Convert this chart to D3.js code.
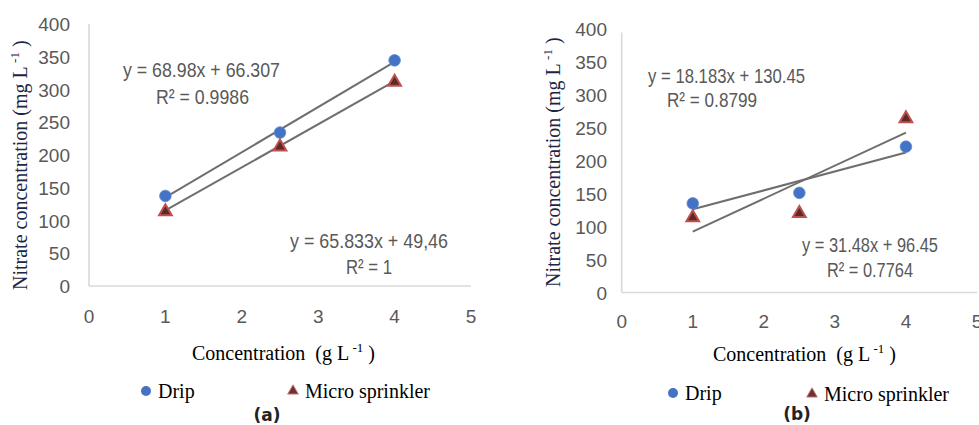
<!DOCTYPE html>
<html>
<head>
<meta charset="utf-8">
<script src="https://cdn.jsdelivr.net/npm/d3@7"></script>
<style>
  html, body { margin: 0; padding: 0; background: #fff; }
  svg { display: block; }
  .tick-label { font-family: "Liberation Sans Narrow", "Arial Narrow", "Liberation Sans", sans-serif; fill: #595959; font-size: 19px; }
  .eq { font-family: "Liberation Sans Narrow", "Arial Narrow", "Liberation Sans", sans-serif; fill: #595959; font-size: 20px; }
  .serif { font-family: "Liberation Serif", "Times New Roman", serif; font-size: 20px; fill: #000; }
  .panel-tag { font-family: "DejaVu Sans", Verdana, sans-serif; font-weight: bold; font-size: 17px; fill: #222; }
</style>
</head>
<body>
<svg id="chart" width="979" height="425"></svg>
<script>
// Applied fertiliser concentration (g L-1)
const concentrations = [1, 2.5, 4];

// Nitrate concentration (mg L-1), panel (a)
const dripA = [137.5, 234.3, 344.5];
const microA = [115.3, 214.0, 312.8];

// Nitrate concentration (mg L-1), panel (b)
const dripB = [135, 151, 221];
const microB = [115, 121.5, 265];

// Axis ticks
const xTicks = [0, 1, 2, 3, 4, 5];
const yTicks = [0, 50, 100, 150, 200, 250, 300, 350, 400];

// Trendline annotations
const labelsA = {
  drip: ["y = 68.98x + 66.307", "R² = 0.9986"],
  micro: ["y = 65.833x + 49,46", "R² = 1"]
};
const labelsB = {
  drip: ["y = 18.183x + 130.45", "R² = 0.8799"],
  micro: ["y = 31.48x + 96.45", "R² = 0.7764"]
};

const seriesNames = ["Drip", "Micro sprinkler"];

const svg = d3.select("#chart");
const BLUE = "#4472C4";
const RED = "#C0504D";

// Ordinary least-squares line through the points
function linearFit(xs, ys) {
  const mx = d3.mean(xs), my = d3.mean(ys);
  let sxy = 0, sxx = 0;
  xs.forEach((x, i) => { sxy += (x - mx) * (ys[i] - my); sxx += (x - mx) * (x - mx); });
  const slope = sxy / sxx;
  return { slope, intercept: my - slope * mx };
}

const triangle = d3.symbol().type(d3.symbolTriangle);

function drawPanel(p) {
  const g = svg.append("g");
  const x = d3.scaleLinear().domain([0, 5]).range(p.xRange);
  const y = d3.scaleLinear().domain([0, 400]).range(p.yRange);

  // axis lines
  g.append("line")
    .attr("x1", x(0)).attr("x2", x(0))
    .attr("y1", y(400) + p.axisTopPad).attr("y2", y(0))
    .attr("stroke", "#d9d9d9").attr("stroke-width", 1.6);
  g.append("line")
    .attr("x1", x(0)).attr("x2", x(5))
    .attr("y1", y(0)).attr("y2", y(0))
    .attr("stroke", "#d9d9d9").attr("stroke-width", 1.6);

  // tick labels
  g.selectAll(".ytl").data(yTicks).enter().append("text")
    .attr("class", "tick-label")
    .attr("x", p.yLabelRight).attr("y", d => y(d) + 7)
    .attr("text-anchor", "end")
    .text(d => d);
  g.selectAll(".xtl").data(xTicks).enter().append("text")
    .attr("class", "tick-label")
    .attr("x", d => x(d)).attr("y", p.xLabelBase)
    .attr("text-anchor", "middle")
    .text(d => d);

  // trendlines from least-squares fits
  [p.drip, p.micro].forEach(vals => {
    const fit = linearFit(concentrations, vals);
    const x0 = d3.min(concentrations), x1 = d3.max(concentrations);
    g.append("line")
      .attr("x1", x(x0)).attr("y1", y(fit.intercept + fit.slope * x0))
      .attr("x2", x(x1)).attr("y2", y(fit.intercept + fit.slope * x1))
      .attr("stroke", "#6e6e6e").attr("stroke-width", 2);
  });

  // markers
  g.selectAll(".drip").data(concentrations).enter().append("circle")
    .attr("cx", d => x(d)).attr("cy", (d, i) => y(p.drip[i]))
    .attr("r", 5.8).attr("fill", BLUE).attr("stroke", "#5b8bd6").attr("stroke-width", 0.8);
  g.selectAll(".micro").data(concentrations).enter().append("path")
    .attr("d", triangle.size(70))
    .attr("transform", (d, i) => `translate(${x(d)},${y(p.micro[i]) + 1})`)
    .attr("fill", "#5a2b2b").attr("stroke", RED).attr("stroke-width", 2);

  // equation labels
  p.eqs.forEach(e => {
    g.append("text").attr("class", "eq")
      .attr("x", e.x).attr("y", e.y).attr("text-anchor", "middle")
      .attr("textLength", e.w).attr("lengthAdjust", "spacingAndGlyphs")
      .text(e.t);
  });

  // y-axis title
  const yt = g.append("text").attr("class", "serif")
    .attr("transform", `translate(${p.yTitle[0]},${p.yTitle[1]}) rotate(-90)`)
    .style("fill", "#1b2545");
  yt.append("tspan").text("Nitrate concentration (mg L");
  yt.append("tspan").attr("dy", -8).attr("font-size", 13).text(" -1");
  yt.append("tspan").attr("dy", 8).text(" )");

  // x-axis title
  const xt = g.append("text").attr("class", "serif")
    .attr("x", p.xTitle[0]).attr("y", p.xTitle[1]);
  xt.append("tspan").text("Concentration\u00a0\u00a0(g L");
  xt.append("tspan").attr("dy", -8).attr("font-size", 13).text(" -1");
  xt.append("tspan").attr("dy", 8).text(" )");

  // legend
  g.append("circle").attr("cx", p.legend.c[0]).attr("cy", p.legend.c[1])
    .attr("r", 5).attr("fill", BLUE);
  g.append("text").attr("class", "serif")
    .attr("x", p.legend.c[0] + 12).attr("y", p.legend.c[1] + 7).text(seriesNames[0]);
  g.append("path").attr("d", triangle.size(50))
    .attr("transform", `translate(${p.legend.t[0]},${p.legend.t[1]})`)
    .attr("fill", "#6b3333").attr("stroke", "#d08080").attr("stroke-width", 1);
  g.append("text").attr("class", "serif")
    .attr("x", p.legend.t[0] + 12).attr("y", p.legend.t[1] + 7).text(seriesNames[1]);

  // panel tag
  g.append("text").attr("class", "panel-tag")
    .attr("x", p.tag[0]).attr("y", p.tag[1]).attr("text-anchor", "middle").text(p.tag[2]);
}

drawPanel({
  xRange: [89, 471], yRange: [286, 24], axisTopPad: 0,
  yLabelRight: 70, xLabelBase: 323,
  drip: dripA, micro: microA,
  eqs: [
    { t: labelsA.drip[0], x: 201.5, y: 77, w: 157 },
    { t: labelsA.drip[1], x: 202.5, y: 104, w: 93 },
    { t: labelsA.micro[0], x: 369, y: 248, w: 158 },
    { t: labelsA.micro[1], x: 369, y: 274, w: 46 }
  ],
  yTitle: [27, 290], xTitle: [192, 360],
  legend: { c: [146, 391], t: [293, 391] },
  tag: [267, 421, "(a)"]
});

drawPanel({
  xRange: [621.7, 977], yRange: [292.5, 28.5], axisTopPad: 4,
  yLabelRight: 607, xLabelBase: 328,
  drip: dripB, micro: microB,
  eqs: [
    { t: labelsB.drip[0], x: 726.5, y: 83, w: 157 },
    { t: labelsB.drip[1], x: 712, y: 107, w: 90 },
    { t: labelsB.micro[0], x: 870, y: 252, w: 136 },
    { t: labelsB.micro[1], x: 870, y: 277, w: 86 }
  ],
  yTitle: [560, 287], xTitle: [713, 361],
  legend: { c: [673, 393], t: [812, 394] },
  tag: [797, 420, "(b)"]
});
</script>
</body>
</html>
